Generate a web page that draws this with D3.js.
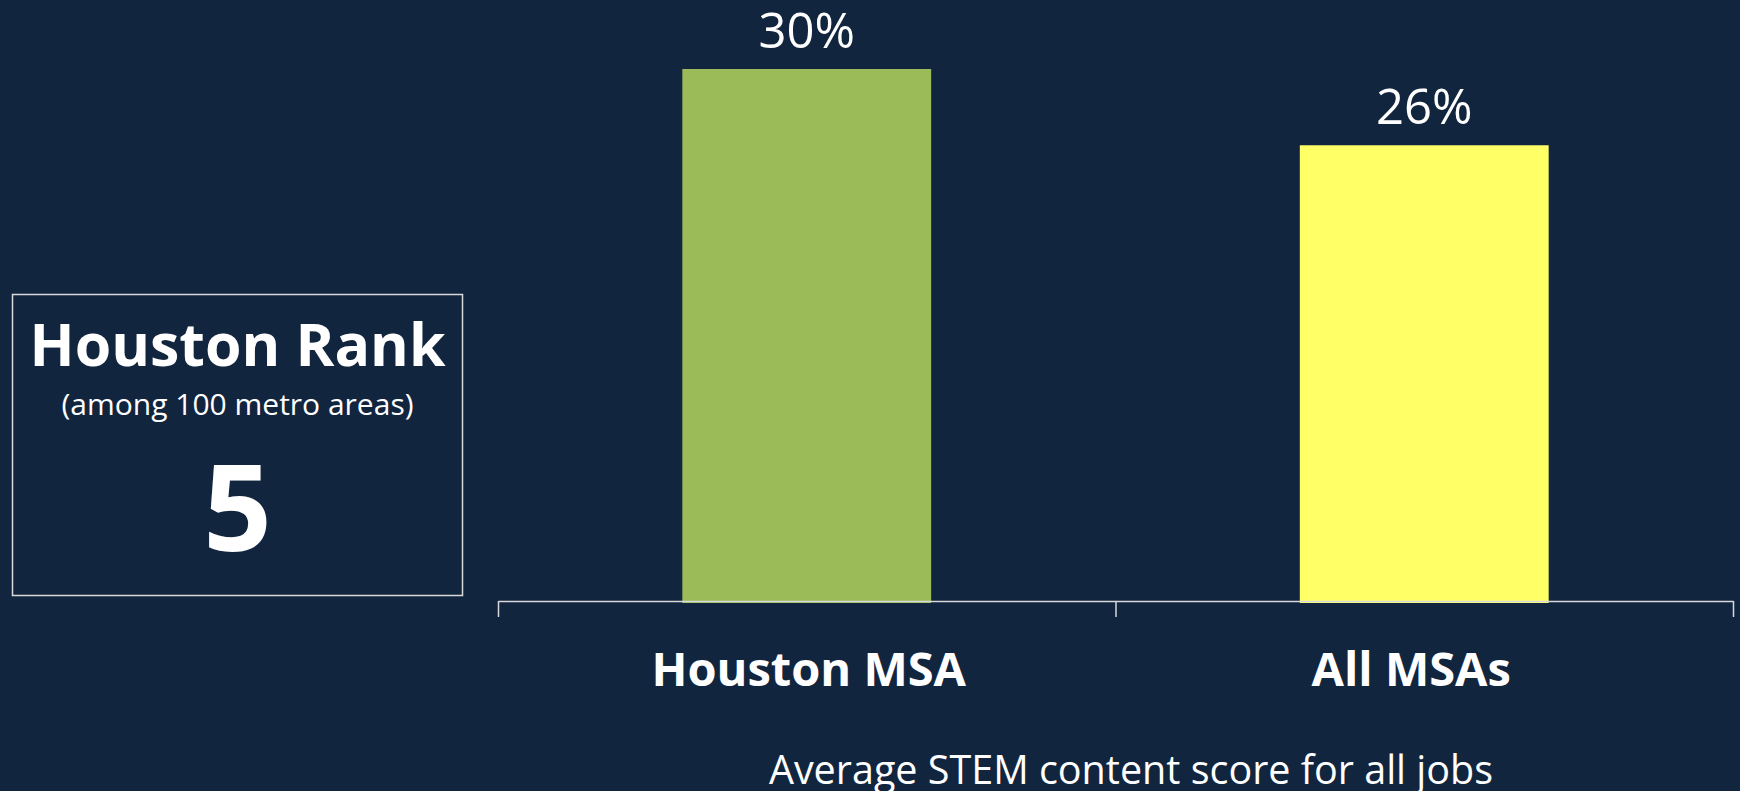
<!DOCTYPE html>
<html>
<head>
<meta charset="utf-8">
<script src="https://cdnjs.cloudflare.com/ajax/libs/d3/7.8.5/d3.min.js"></script>
<style>
  html, body { margin: 0; padding: 0; background: #12253f; overflow: hidden; }
  svg { display: block; font-family: "Open Sans", sans-serif; }
</style>
</head>
<body>
<svg id="chart"></svg>
<script>
const categories = ["Houston MSA", "All MSAs"];
const values = [30.0, 25.7];
const barColors = ["#9bbb59", "#ffff66"];
const rankTitle = "Houston Rank";
const rankSubtitle = "(among 100 metro areas)";
const rankValue = "5";
const xTitle = "Average STEM content score for all jobs";

const width = 1740, height = 791;
const margin = { top: 69, right: 7, bottom: 190, left: 498 };
const plotW = width - margin.left - margin.right;
const plotH = height - margin.top - margin.bottom;

const svg = d3.select("#chart")
    .attr("width", width)
    .attr("height", height);

svg.append("rect")
    .attr("width", width)
    .attr("height", height)
    .attr("fill", "#12253f");

const g = svg.append("g")
    .attr("transform", `translate(${margin.left}, ${margin.top})`);

const x = d3.scaleBand()
    .domain(categories)
    .range([0, plotW])
    .paddingInner(0.597)
    .paddingOuter(0.2985);

const y = d3.scaleLinear()
    .domain([0, 30])
    .range([plotH, 0]);

const data = categories.map((c, i) => ({ name: c, value: values[i], color: barColors[i] }));

g.selectAll(".bar")
    .data(data)
    .enter()
    .append("rect")
    .attr("class", "bar")
    .attr("x", d => x(d.name))
    .attr("y", d => y(d.value))
    .attr("width", x.bandwidth())
    .attr("height", d => plotH - y(d.value) + 2)
    .attr("fill", d => d.color);

// category boundaries axis (ticks between groups, like the original)
const edge = d3.scaleLinear().domain([0, categories.length]).range([0, plotW]);
const axis = g.append("g")
    .attr("transform", `translate(0, ${plotH})`)
    .call(d3.axisBottom(edge).ticks(categories.length).tickSize(16).tickSizeOuter(0).tickFormat(""));
axis.selectAll("path, line").attr("stroke", "#d9d9d9").attr("stroke-width", 1.5);

g.selectAll(".value-label")
    .data(data)
    .enter()
    .append("text")
    .attr("class", "value-label")
    .attr("x", d => x(d.name) + x.bandwidth() / 2)
    .attr("y", d => y(d.value) - 21)
    .attr("text-anchor", "middle")
    .attr("fill", "#ffffff")
    .style("font-size", "49px")
    .text(d => d3.format(".0f")(d.value) + "%");

g.selectAll(".cat-label")
    .data(data)
    .enter()
    .append("text")
    .attr("class", "cat-label")
    .attr("x", d => x(d.name) + x.bandwidth() / 2)
    .attr("y", plotH + 85)
    .attr("dx", (d, i) => i === 1 ? -13 : 2)
    .attr("text-anchor", "middle")
    .attr("fill", "#ffffff")
    .style("font-size", "47px")
    .style("font-weight", "bold")
    .text(d => d.name);

svg.append("text")
    .attr("x", 1131)
    .attr("y", 784)
    .attr("text-anchor", "middle")
    .attr("fill", "#ffffff")
    .style("font-size", "39.5px")
    .text(xTitle);

// rank box
const box = svg.append("g");
box.append("rect")
    .attr("x", 12.5)
    .attr("y", 294.5)
    .attr("width", 450)
    .attr("height", 301)
    .attr("fill", "none")
    .attr("stroke", "#d9d9d9")
    .attr("stroke-width", 1.5);

box.append("text")
    .attr("x", 237.5).attr("y", 366)
    .attr("text-anchor", "middle")
    .attr("fill", "#ffffff")
    .style("font-size", "59px")
    .style("font-weight", "bold")
    .text(rankTitle);

box.append("text")
    .attr("x", 237.5).attr("y", 415)
    .attr("text-anchor", "middle")
    .attr("fill", "#ffffff")
    .style("font-size", "30px")
    .text(rankSubtitle);

box.append("text")
    .attr("x", 237.5).attr("y", 551)
    .attr("text-anchor", "middle")
    .attr("fill", "#ffffff")
    .style("font-size", "120px")
    .style("font-weight", "bold")
    .text(rankValue);
</script>
</body>
</html>
